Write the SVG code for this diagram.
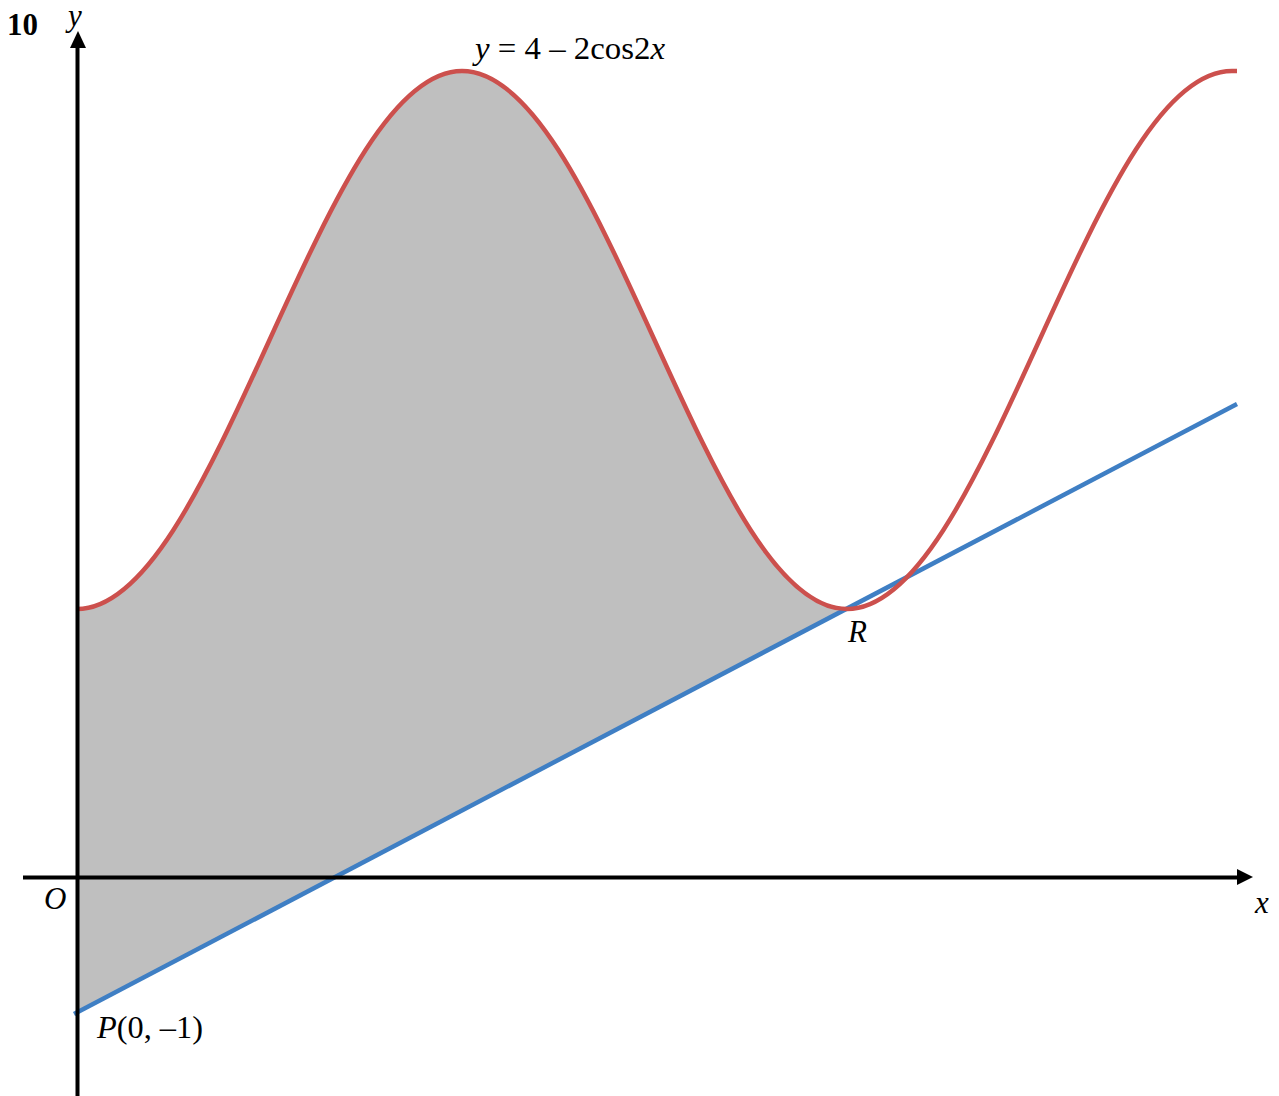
<svg xmlns="http://www.w3.org/2000/svg" width="1279" height="1096" viewBox="0 0 1279 1096">
<style>
.t{font-family:"Liberation Serif","Times New Roman",serif;font-size:31px;fill:#000}
.i{font-style:italic}
.ax{stroke:#000;stroke-width:4;fill:none}
</style>
<rect width="1279" height="1096" fill="#fff"/>
<g id="shade">
<path d="M77,609 C109.08,609 141.17,580.01 173.25,530.21 C205.33,480.41 237.42,410.42 269.5,340 C301.58,269.58 333.67,199.59 365.75,149.79 C397.83,99.99 429.92,71 462,71 C494.08,71 526.17,99.99 558.25,149.79 C590.33,199.59 622.42,269.58 654.5,340 C686.58,410.42 718.67,480.41 750.75,530.21 C782.83,580.01 814.92,609 847,609 L77,1012.6 Z" fill="#bfbfbf"/>
</g>
<g id="line">
<line x1="74" y1="1014" x2="1237" y2="404" stroke="#3f7fc4" stroke-width="4.5"/>
</g>
<g id="curve">
<path d="M77,609 C109.08,609 141.17,580.01 173.25,530.21 C205.33,480.41 237.42,410.42 269.5,340 C301.58,269.58 333.67,199.59 365.75,149.79 C397.83,99.99 429.92,71 462,71 C494.08,71 526.17,99.99 558.25,149.79 C590.33,199.59 622.42,269.58 654.5,340 C686.58,410.42 718.67,480.41 750.75,530.21 C782.83,580.01 814.92,609 847,609 C879.08,609 911.17,580.01 943.25,530.21 C975.33,480.41 1007.42,410.42 1039.5,340 C1071.58,269.58 1103.67,199.59 1135.75,149.79 C1167.83,99.99 1199.92,71 1232,71 L1237,71" fill="none" stroke="#cc504d" stroke-width="4.5"/>
</g>
<g id="axes">
<line class="ax" x1="77.5" y1="1096" x2="77.5" y2="46"/>
<polygon points="78,31 70,48 86,48" fill="#000"/>
<line class="ax" x1="23" y1="877.5" x2="1239" y2="877.5" stroke-width="5"/>
<polygon points="1253,877 1237,869 1237,885" fill="#000"/>
</g>
<g id="labels">
<text class="t" x="7" y="35" font-weight="bold">10</text>
<text class="t i" x="68" y="26" font-size="28">y</text>
<text class="t" x="475" y="59" font-size="29" textLength="190" lengthAdjust="spacingAndGlyphs"><tspan class="i">y</tspan> = 4 – 2cos2<tspan class="i">x</tspan></text>
<text class="t i" x="848" y="642">R</text>
<text class="t i" x="44" y="909">O</text>
<text class="t i" x="1255" y="913">x</text>
<text class="t" x="97" y="1038" textLength="106" lengthAdjust="spacingAndGlyphs"><tspan class="i">P</tspan>(0, –1)</text>
</g>
</svg>
